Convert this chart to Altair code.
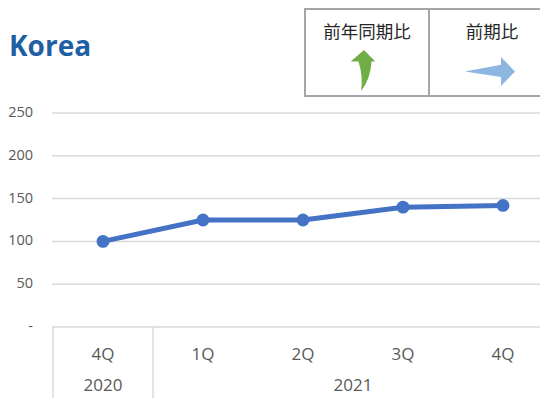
import altair as alt
import pandas as pd

# ---- data ----
quarters = ["4Q", "1Q", "2Q", "3Q", "4Q"]
quarter_years = ["2020", "2021", "2021", "2021", "2021"]
index_values = [100, 125, 125, 140, 142]

y_ticks = [0, 50, 100, 150, 200, 250]
y_tick_labels = ["-", "50", "100", "150", "200", "250"]

year_labels = ["2020", "2021"]
year_starts = [0, 1]
year_ends = [1, 5]

legend_labels = ["前年同期比", "前期比"]
title_text = "Korea"

# ---- tables ----
df = pd.DataFrame({
    "pos": [i + 0.5 for i in range(len(quarters))],
    "q": quarters,
    "year": quarter_years,
    "v": index_values,
})
df_ticks = pd.DataFrame({"v": y_ticks, "label": y_tick_labels})
df_years = pd.DataFrame({
    "year": year_labels,
    "pos": [(s + e) / 2 for s, e in zip(year_starts, year_ends)],
})
df_sep = pd.DataFrame({"pos": year_starts + [year_ends[-1]], "v": [0] * (len(year_starts) + 1)})

xs = alt.Scale(domain=[0, 5], range=[45, 545], nice=False, zero=False)
ys = alt.Scale(domain=[0, 250], range=[319, 105], nice=False, zero=False)

LINE = "#4472C4"
GRID = "#D9D9D9"
LABEL = "#595959"
FONT = "Open Sans"
CJK = "Noto Sans CJK JP"

grid = alt.Chart(df_ticks).mark_rule(color=GRID, strokeWidth=1.5).encode(
    y=alt.Y("v:Q", scale=ys, axis=None),
    x=alt.value(44),
    x2=alt.value(600),
)
ytxt = alt.Chart(df_ticks).mark_text(
    align="right", baseline="middle", font=FONT, fontSize=14.5, color=LABEL
).encode(
    y=alt.Y("v:Q", scale=ys, axis=None),
    x=alt.value(25),
    text="label:N",
)
seps = alt.Chart(df_sep).mark_rule(color=GRID, strokeWidth=1.5).encode(
    x=alt.X("pos:Q", scale=xs, axis=None),
    y=alt.Y("v:Q", scale=ys, axis=None),
    y2=alt.value(420),
)
qtxt = alt.Chart(df).mark_text(
    align="center", baseline="middle", font=FONT, fontSize=17, color=LABEL
).encode(
    x=alt.X("pos:Q", scale=xs, axis=None),
    y=alt.value(347),
    text="q:N",
)
ytxt2 = alt.Chart(df_years).mark_text(
    align="center", baseline="middle", font=FONT, fontSize=17, color=LABEL
).encode(
    x=alt.X("pos:Q", scale=xs, axis=None),
    y=alt.value(378),
    text="year:N",
)
line = alt.Chart(df).mark_line(color=LINE, strokeWidth=5).encode(
    x=alt.X("pos:Q", scale=xs, axis=None),
    y=alt.Y("v:Q", scale=ys, axis=None),
)
pts = alt.Chart(df).mark_point(filled=True, opacity=1, color=LINE, size=165).encode(
    x=alt.X("pos:Q", scale=xs, axis=None),
    y=alt.Y("v:Q", scale=ys, axis=None),
)

title = alt.Chart(pd.DataFrame({"t": [title_text]})).mark_text(
    align="left", baseline="middle", font=FONT, fontSize=28, fontWeight="bold", color="#1F5FA3"
).encode(x=alt.value(1), y=alt.value(40), text="t:N")

# legend-like box at top right
box = alt.Chart(pd.DataFrame({"a": [0]})).mark_rect(
    fill="white", stroke="#A6A6A6", strokeWidth=2
).encode(x=alt.value(297), x2=alt.value(600), y=alt.value(1), y2=alt.value(88))
divider = alt.Chart(pd.DataFrame({"a": [0]})).mark_rule(color="#A6A6A6", strokeWidth=2).encode(
    x=alt.value(421), y=alt.value(1), y2=alt.value(88)
)
leg1 = alt.Chart(pd.DataFrame({"t": [legend_labels[0]]})).mark_text(
    align="center", baseline="middle", font=CJK, fontSize=17.5, color="#262626"
).encode(x=alt.value(359), y=alt.value(25), text="t:N")
leg2 = alt.Chart(pd.DataFrame({"t": [legend_labels[1]]})).mark_text(
    align="center", baseline="middle", font=CJK, fontSize=17.5, color="#262626"
).encode(x=alt.value(484), y=alt.value(25), text="t:N")

green_path = "M0.05,-1 L0.6,-0.44 L0.42,-0.44 Q0.36,0.45 -0.1,1 Q0.02,0.3 -0.22,-0.44 L-0.6,-0.44 Z"
blue_path = "M-1,0 L0.44,-0.27 L0.44,-0.58 L1,0 L0.44,0.58 L0.44,0.22 Z"

green = alt.Chart(pd.DataFrame({"a": [0]})).mark_point(
    shape=green_path, filled=True, opacity=1, color="#70AD47", size=1681, strokeWidth=0
).encode(x=alt.value(355), y=alt.value(62.5))
blue = alt.Chart(pd.DataFrame({"a": [0]})).mark_point(
    shape=blue_path, filled=True, opacity=1, color="#8DB6E0", size=2500, strokeWidth=0
).encode(x=alt.value(482), y=alt.value(63.5))

chart = alt.layer(
    grid, ytxt, seps, qtxt, ytxt2, line, pts, title, box, divider, leg1, leg2, green, blue
).properties(
    width=532, height=390,
    autosize=alt.AutoSizeParams(type="none"),
    padding=0,
    background="white",
).configure_view(stroke=None)

chart.save("out.html", embed_options={"renderer": "svg", "actions": False})
